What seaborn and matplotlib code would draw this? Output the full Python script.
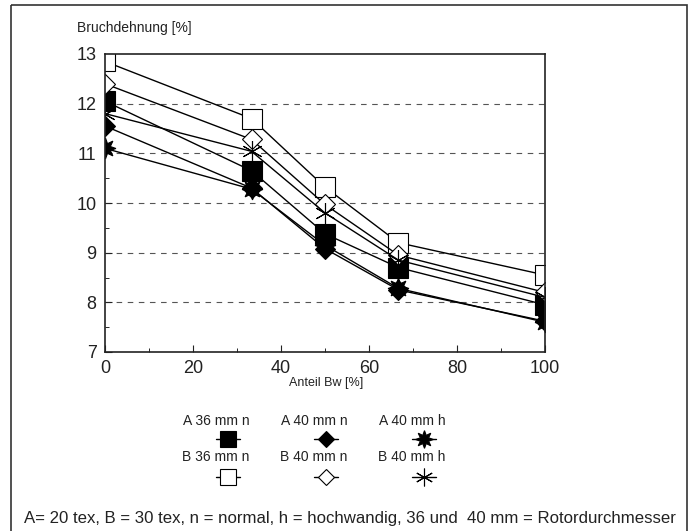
import numpy as np
import pandas as pd
import matplotlib
matplotlib.use("Agg")
import matplotlib.pyplot as plt
import seaborn as sns
from matplotlib.patches import Rectangle

# ==============================
# DATA
# ==============================
anteil_bw = [0, 33.3, 50, 66.7, 100]

a36_n = [12.05, 10.65, 9.38, 8.70, 7.95]
a40_n = [11.55, 10.30, 9.08, 8.25, 7.62]
a40_h = [11.10, 10.28, 9.15, 8.28, 7.60]
b36_n = [12.85, 11.70, 10.32, 9.20, 8.55]
b40_n = [12.40, 11.28, 9.97, 8.95, 8.20]
b40_h = [11.80, 11.04, 9.80, 8.85, 8.10]

series_names = ["A 36 mm n", "A 40 mm n", "A 40 mm h",
                "B 36 mm n", "B 40 mm n", "B 40 mm h"]
series_values = [a36_n, a40_n, a40_h, b36_n, b40_n, b40_h]

# marker, size, facecolor, edgewidth
styles = {
    "A 36 mm n": ("s", 14, "black", 0.8),
    "A 40 mm n": ("D", 10, "black", 0.8),
    "A 40 mm h": ((8, 1, 0), 15, "black", 0.8),
    "B 36 mm n": ("s", 14, "white", 0.8),
    "B 40 mm n": ("D", 10, "white", 0.8),
    "B 40 mm h": ((6, 2, 0), 15, "black", 0.8),
}

rows = []
for name, vals in zip(series_names, series_values):
    for x, y in zip(anteil_bw, vals):
        rows.append({"serie": name, "anteil": x, "dehnung": y})
df = pd.DataFrame(rows)

# ==============================
# PLOT
# ==============================
sns.set_style("ticks")
plt.rcParams["font.family"] = ["Liberation Sans", "DejaVu Sans"]

W, H = 694, 531
fig = plt.figure(figsize=(W / 100, H / 100), dpi=100)

# overlay axes in pixel coords for frame and legend
lax = fig.add_axes([0, 0, 1, 1])
lax.set_xlim(0, W)
lax.set_ylim(H, 0)
lax.axis("off")
lax.add_patch(Rectangle((11, 5), 676, 540, fill=False, lw=1.2, ec="#333333", clip_on=False))

ax = fig.add_axes([105 / W, 1 - 352 / H, 440 / W, 298 / H])

for name in series_names:
    m, ms, fc, mew = styles[name]
    sub = df[df["serie"] == name]
    sns.lineplot(data=sub, x="anteil", y="dehnung", ax=ax, color="black",
                 lw=1.0, marker=m, markersize=ms, markerfacecolor=fc,
                 markeredgecolor="black", markeredgewidth=mew, legend=False)

ax.set_xlim(0, 100)
ax.set_ylim(7, 13)
ax.set_xticks([0, 20, 40, 60, 80, 100])
ax.set_xticks([10, 30, 50, 70, 90], minor=True)
ax.set_yticks([7, 8, 9, 10, 11, 12, 13])
ax.set_yticks(np.arange(7.5, 13, 1.0), minor=True)
ax.tick_params(axis="both", which="major", direction="in", length=5,
               width=0.8, labelsize=13, colors="#222222")
ax.tick_params(axis="x", which="major", pad=6)
ax.tick_params(axis="y", which="major", pad=6)
ax.tick_params(axis="both", which="minor", direction="in", length=3, width=0.7)
for sp in ax.spines.values():
    sp.set_visible(True)
    sp.set_linewidth(1.2)
    sp.set_color("#222222")
ax.set_xlabel("")
ax.set_ylabel("")
for yv in [8, 9, 10, 11, 12]:
    ax.axhline(yv, color="#555555", lw=0.8, ls=(0, (5, 5)), zorder=0)

fig.text(77 / W, 1 - 28 / H, "Bruchdehnung [%]", fontsize=10,
         ha="left", va="center", color="#222222")
fig.text(326 / W, 1 - 383 / H, "Anteil Bw [%]", fontsize=9,
         ha="center", va="center", color="#222222")

# legend: label above marker, 3 columns x 2 rows
label_x = [216, 314, 412]
mark_x = [228, 326, 424]
label_y = [421, 457]
mark_y = [439, 477]
for i, name in enumerate(series_names):
    r, c = divmod(i, 3)
    m, ms, fc, mew = styles[name]
    lax.text(label_x[c], label_y[r], name, fontsize=10, ha="center",
             va="center", color="#222222")
    lax.plot([mark_x[c] - 12, mark_x[c] + 12], [mark_y[r], mark_y[r]],
             color="black", lw=1.0)
    lax.plot([mark_x[c]], [mark_y[r]], marker=m, markersize=ms * 0.85,
             markerfacecolor=fc, markeredgecolor="black",
             markeredgewidth=mew, ls="none")

fig.text(350 / W, 1 - 519 / H,
         "A= 20 tex, B = 30 tex, n = normal, h = hochwandig, 36 und  40 mm = Rotordurchmesser",
         fontsize=12.1, ha="center", va="center", color="#222222")

fig.savefig("out.png", dpi=100)
